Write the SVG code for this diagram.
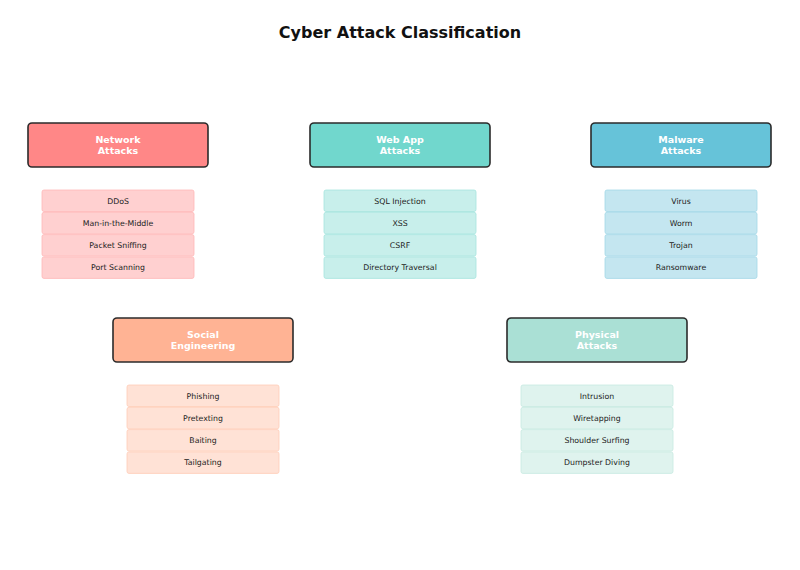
<svg xmlns="http://www.w3.org/2000/svg" width="800" height="570" viewBox="0 0 800 570">
<style>
text{font-family:"DejaVu Sans",sans-serif;text-anchor:middle}
.t{font-size:16px;font-weight:bold;fill:#111}
.h{stroke:#2b2b2b;stroke-width:1.6}
.hl{font-size:9.5px;font-weight:bold;fill:#fff}
.il{font-size:7.8px;fill:#222}
.i{stroke-width:0.8}
</style>
<rect width="800" height="570" fill="#fff"/>
<text class="t" x="400" y="38">Cyber Attack Classification</text>
<g id="connectors"/>
<g id="network">
<rect class="h" x="28" y="123" width="180" height="44" rx="4" fill="#FF8787"/>
<text class="hl" x="118" y="143">Network</text><text class="hl" x="118" y="154">Attacks</text>
<g fill="#FFD0D0" stroke="#FFB8B8" class="i">
<rect x="42" y="190" width="152" height="21.5" rx="2"/><rect x="42" y="212.3" width="152" height="21.5" rx="2"/><rect x="42" y="234.6" width="152" height="21.5" rx="2"/><rect x="42" y="256.9" width="152" height="21.5" rx="2"/></g>
<text class="il" x="118" y="203.5">DDoS</text><text class="il" x="118" y="225.8">Man-in-the-Middle</text><text class="il" x="118" y="248.1">Packet Sniffing</text><text class="il" x="118" y="270.4">Port Scanning</text>
</g>
<g id="webapp">
<rect class="h" x="310" y="123" width="180" height="44" rx="4" fill="#71D7CD"/>
<text class="hl" x="400" y="143">Web App</text><text class="hl" x="400" y="154">Attacks</text>
<g fill="#C8EFEB" stroke="#A6E4DE" class="i">
<rect x="324" y="190" width="152" height="21.5" rx="2"/><rect x="324" y="212.3" width="152" height="21.5" rx="2"/><rect x="324" y="234.6" width="152" height="21.5" rx="2"/><rect x="324" y="256.9" width="152" height="21.5" rx="2"/></g>
<text class="il" x="400" y="203.5">SQL Injection</text><text class="il" x="400" y="225.8">XSS</text><text class="il" x="400" y="248.1">CSRF</text><text class="il" x="400" y="270.4">Directory Traversal</text>
</g>
<g id="malware">
<rect class="h" x="591" y="123" width="180" height="44" rx="4" fill="#66C3D9"/>
<text class="hl" x="681" y="143">Malware</text><text class="hl" x="681" y="154">Attacks</text>
<g fill="#C4E6F0" stroke="#A3D8E7" class="i">
<rect x="605" y="190" width="152" height="21.5" rx="2"/><rect x="605" y="212.3" width="152" height="21.5" rx="2"/><rect x="605" y="234.6" width="152" height="21.5" rx="2"/><rect x="605" y="256.9" width="152" height="21.5" rx="2"/></g>
<text class="il" x="681" y="203.5">Virus</text><text class="il" x="681" y="225.8">Worm</text><text class="il" x="681" y="248.1">Trojan</text><text class="il" x="681" y="270.4">Ransomware</text>
</g>
<g id="social">
<rect class="h" x="113" y="318" width="180" height="44" rx="4" fill="#FFB394"/>
<text class="hl" x="203" y="338">Social</text><text class="hl" x="203" y="349">Engineering</text>
<g fill="#FFE2D6" stroke="#FFCDB8" class="i">
<rect x="127" y="385" width="152" height="21.5" rx="2"/><rect x="127" y="407.3" width="152" height="21.5" rx="2"/><rect x="127" y="429.6" width="152" height="21.5" rx="2"/><rect x="127" y="451.9" width="152" height="21.5" rx="2"/></g>
<text class="il" x="203" y="398.5">Phishing</text><text class="il" x="203" y="420.8">Pretexting</text><text class="il" x="203" y="443.1">Baiting</text><text class="il" x="203" y="465.4">Tailgating</text>
</g>
<g id="physical">
<rect class="h" x="507" y="318" width="180" height="44" rx="4" fill="#AAE0D5"/>
<text class="hl" x="597" y="338">Physical</text><text class="hl" x="597" y="349">Attacks</text>
<g fill="#DFF3EE" stroke="#C6EAE1" class="i">
<rect x="521" y="385" width="152" height="21.5" rx="2"/><rect x="521" y="407.3" width="152" height="21.5" rx="2"/><rect x="521" y="429.6" width="152" height="21.5" rx="2"/><rect x="521" y="451.9" width="152" height="21.5" rx="2"/></g>
<text class="il" x="597" y="398.5">Intrusion</text><text class="il" x="597" y="420.8">Wiretapping</text><text class="il" x="597" y="443.1">Shoulder Surfing</text><text class="il" x="597" y="465.4">Dumpster Diving</text>
</g>
</svg>
